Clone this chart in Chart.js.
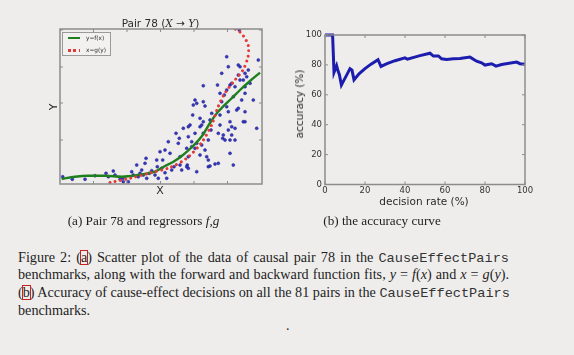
<!DOCTYPE html>
<html><head><meta charset="utf-8">
<script src="https://cdn.jsdelivr.net/npm/chart.js@4/dist/chart.umd.min.js"></script>
<style>
body{margin:0;background:#eeedeb;width:574px;height:355px;position:relative;overflow:hidden;font-family:"DejaVu Sans",sans-serif;color:#2b2b2b}
.abs{position:absolute;white-space:nowrap}
.c{transform:translate(-50%,-50%)}
.ser{font-family:"Liberation Serif","Times New Roman",serif;color:#1e1e1e}
.mono{font-family:"Liberation Mono","DejaVu Sans Mono",monospace;font-size:13.6px;color:#333}
.cap{position:absolute;left:18px;width:491px;height:18px;line-height:18px;font-size:14.2px;text-align:justify;text-align-last:justify;white-space:nowrap}
.cap.last{text-align:left;text-align-last:left}
.bx{position:relative}
.bx::after{content:'';position:absolute;left:-1px;right:-1px;top:1px;bottom:0px;border:1.3px solid #c42222}
.mi{font-family:"DejaVu Serif",serif;font-style:italic}
</style></head>
<body>
<div class="abs" style="left:40px;top:10px"><canvas id="c1" width="240" height="190"></canvas></div>
<div class="abs" style="left:280px;top:20px"><canvas id="c2" width="260" height="200"></canvas></div>

<div class="abs c" style="left:160.5px;top:23px;font-size:10.5px">Pair 78 (<span class="mi">X</span> → <span class="mi">Y</span>)</div>
<div class="abs c" style="left:53px;top:107px;font-size:11px;transform:translate(-50%,-50%) rotate(-90deg)">Y</div>
<div class="abs c" style="left:160px;top:190px;font-size:11px">X</div>

<div class="abs" style="left:61.5px;top:31.5px;width:47px;height:22px;border:1px solid #9a9a9a;background:#f2f1ef"></div>
<div class="abs" style="left:68px;top:37.3px;width:12px;height:2px;background:#1f7f1f"></div>
<div class="abs" style="left:68px;top:48.5px;width:12px;height:3px;background:repeating-linear-gradient(90deg,#e03a3a 0 3px,transparent 3px 5.5px)"></div>
<div class="abs" style="left:86px;top:34.5px;font-size:5.8px;line-height:7px">y=f(x)</div>
<div class="abs" style="left:86px;top:46.5px;font-size:5.8px;line-height:7px">x=g(y)</div>

<div class="abs c" style="left:299px;top:104px;font-size:10.5px;transform:translate(-50%,-50%) rotate(-90deg)">accuracy (%)</div>
<div class="abs c" style="left:424px;top:201px;font-size:10.5px">decision rate (%)</div>

<div class="abs c ser" style="left:143.5px;top:221px;font-size:13.2px">(a) Pair 78 and regressors <i>f</i>,<i>g</i></div>
<div class="abs c ser" style="left:382px;top:221px;font-size:13.2px">(b) the accuracy curve</div>

<div class="cap ser" style="top:247.5px">Figure 2: (<span class="bx">a</span>) Scatter plot of the data of causal pair 78 in the <span class="mono">CauseEffectPairs</span></div>
<div class="cap ser" style="top:265px">benchmarks, along with the forward and backward function fits, <i>y</i> = <i>f</i>(<i>x</i>) and <i>x</i> = <i>g</i>(<i>y</i>).</div>
<div class="cap ser" style="top:283px">(<span class="bx">b</span>) Accuracy of cause-effect decisions on all the 81 pairs in the <span class="mono">CauseEffectPairs</span></div>
<div class="cap ser last" style="top:301px">benchmarks.</div>
<div class="abs ser" style="left:286px;top:318px;font-size:14px">.</div>

<script>
// ---- Pair 78 scatter data (arbitrary units) ----
const pairX = [2.7,12.3,25,35,46,48.3,53.3,55,60,62.7,63.3,68.3,71.7,73.3,76.7,78.3,80,81.7,83.3,85,86,86.7,89.3,91.7,95,96.7,97.3,98.3,100,101.7,102.7,105,106.7,105,108.3,110,111.7,114,116,118.3,119.3,120,120,121.7,123.3,127.3,128.3,128.3,131.7,132.7,
126.7,126.7,128.3,128.3,130,131.7,133.3,135,135,135,136.7,136.7,136.7,140,140,140,141.7,141.7,143.3,143.3,143.3,143.3,145,145,146.7,148.3,148.3,148.3,150,150,151,151.7,155,157.5,158.3,158.3,160,160,160,161.7,161.7,162.7,163.3,164.3,165,166.7,166.7,166.7,168.3,168.3,168.3,170,170,170,170,171.7,171.7,171.7,173.3,173.3,175,175,175,176.7,178.3,178.3,178.3,179.3,180,180,181.7,183.3,183.3,185,185,185,185,185,186.7,188.3,190,193.3,196.7,198.3];
const pairY = [7.3,4.7,4.7,8.3,10.7,7.3,13,9,4.7,5.7,2.3,2.3,12.3,9,19,7.3,10.7,14,9,20.7,25.7,5.7,10.7,13.3,9,24,17.3,5.7,32.3,15.7,24,11.3,5.7,34,42.3,30.7,14,17.3,50.7,40.7,45.7,19,27.3,14,55.7,19,57.3,15.7,37.3,69,
35.7,17.3,47.3,27.3,59,42.3,79,84,50.7,35.7,80.7,40.7,12.3,65.7,57.3,29,59,39,98.3,82.3,62.3,50.7,78,34,27.3,44,24,17.3,64,18,54,70.7,20,99,50.7,20.7,90.7,69,59,82.3,110.7,45.7,49,89,44,127.3,94,77.3,117.3,72.3,54,99,62.3,44,30.7,100.7,57.3,49,19,87.3,97.3,55.7,44,74,119,109,75.7,154,117.3,104,84,104,62.3,110.7,97.3,90.7,72.3,62.3,107.3,114,100.7,84,55.7,124];
// forward fit y = f(x)
const fX = [1.7,15,28,45,62,78,95,105,113,123,133,142,150,157,163,172,180,190,200];
const fY = [5,7.3,8.3,8.3,7.3,9,12.3,18,22,29,38,48,61,71,77.3,86,94,103,111.3];
// backward fit x = g(y)
const gX = [50,70,90,110,127,142,152,158,165,175,183,188,188.5,186,181,175];
const gY = [1.5,5.7,11,16.5,26,42,60,77,91,104,114,127,137,144,151,155];
const leftXTicks = [33.5,67,100.5,134,167.5];
const leftYTicks = [44,81,117,154];
const legendLabels = ['y=f(x)','x=g(y)'];

// ---- accuracy curve ----
const rate = [0,3.8,4.5,5.8,6.5,7.2,8.2,12.5,13.5,14.5,17,20,23,26.5,28,31,35,40,41.2,47.5,52.5,54.2,56.7,58.3,60.8,64.2,67.5,72.5,75.8,78.3,80,83.3,85.5,88.3,95.8,97.5,100];
const accuracy = [100,100,75,79.5,76,73.5,66.5,77.5,76.5,70,74,77.5,80.5,83.5,79,80.8,82.8,84.7,83.8,86.2,87.8,85.9,86,84.1,83.6,84.1,84.3,85.2,82.5,81.4,79.9,80.8,79.2,80.3,81.9,80.8,80.5];
const accTicks = [0,20,40,60,80,100];

Chart.defaults.font.family = '"DejaVu Sans", sans-serif';
Chart.defaults.color = '#333';

const framePlugin = {
  id: 'frame',
  afterDatasetsDraw(chart, args, o) {
    const {ctx, chartArea: a, scales} = chart;
    ctx.save();
    ctx.strokeStyle = o.color;
    ctx.lineWidth = 1;
    const L = o.tickLen;
    const seg = (x1,y1,x2,y2)=>{ctx.beginPath();ctx.moveTo(x1,y1);ctx.lineTo(x2,y2);ctx.stroke();};
    (o.xTicks||[]).forEach(v=>{const p=scales.x.getPixelForValue(v);seg(p,a.bottom,p,a.bottom-L);seg(p,a.top,p,a.top+L);});
    (o.yTicks||[]).forEach(v=>{const p=scales.y.getPixelForValue(v);seg(a.left,p,a.left+L,p);seg(a.right,p,a.right-L,p);});
    ctx.lineWidth = o.width;
    ctx.strokeRect(a.left, a.top, a.right-a.left, a.bottom-a.top);
    ctx.restore();
  }
};

new Chart(document.getElementById('c1'), {
  type: 'scatter',
  plugins: [framePlugin],
  data: { datasets: [
    { label: 'data', data: pairX.map((x,i)=>({x, y: pairY[i]})), pointRadius: 1.5, pointBackgroundColor: 'rgba(45,45,190,0.95)', pointBorderColor: '#22228f', pointBorderWidth: 0.5, order: 3 },
    { label: legendLabels[0], data: fX.map((x,i)=>({x, y: fY[i]})), showLine: true, pointRadius: 0, borderColor: '#1f7f1f', borderWidth: 2.4, cubicInterpolationMode: 'monotone', order: 2 },
    { label: legendLabels[1], data: gX.map((x,i)=>({x, y: gY[i]})), showLine: true, pointRadius: 0, borderColor: '#e23a3a', borderWidth: 3, borderDash: [0.01, 5.3], borderCapStyle: 'round', tension: 0.3, order: 1 }
  ]},
  options: {
    responsive: false, animation: false, devicePixelRatio: 1,
    layout: { padding: { left: 20, top: 19, right: 18, bottom: 16 } },
    plugins: { legend: { display: false }, tooltip: { enabled: false },
      frame: { color: '#8c8c8c', width: 1.5, tickLen: 3, xTicks: leftXTicks, yTicks: leftYTicks } },
    scales: {
      x: { type: 'linear', min: 0, max: 202, display: false },
      y: { type: 'linear', min: 0, max: 155, display: false }
    }
  }
});

new Chart(document.getElementById('c2'), {
  type: 'scatter',
  plugins: [framePlugin],
  data: { datasets: [
    { label: 'accuracy', data: rate.map((x,i)=>({x, y: accuracy[i]})), showLine: true, pointRadius: 0, borderColor: '#1c1cae', borderWidth: 3, clip: 4 }
  ]},
  options: {
    responsive: false, animation: false, devicePixelRatio: 1,
    layout: { padding: { left: 0, top: 15, right: 15, bottom: 0 } },
    plugins: { legend: { display: false }, tooltip: { enabled: false },
      frame: { color: '#8c8c8c', width: 1.5, tickLen: 3, xTicks: accTicks, yTicks: accTicks } },
    scales: {
      x: { type: 'linear', min: 0, max: 100, afterBuildTicks: s => { s.ticks = accTicks.map(v=>({value:v})); },
           grid: { display: false, drawTicks: false }, border: { display: false },
           ticks: { font: { size: 8.5 }, color: '#333', padding: 1, maxRotation: 0, autoSkip: false },
           afterFit: s => { s.height = 35.5; } },
      y: { type: 'linear', min: 0, max: 100, afterBuildTicks: s => { s.ticks = accTicks.map(v=>({value:v})); },
           grid: { display: false, drawTicks: false }, border: { display: false },
           ticks: { font: { size: 8.5 }, color: '#333', padding: 3, autoSkip: false },
           afterFit: s => { s.width = 45; } }
    }
  }
});
</script>
</body></html>
